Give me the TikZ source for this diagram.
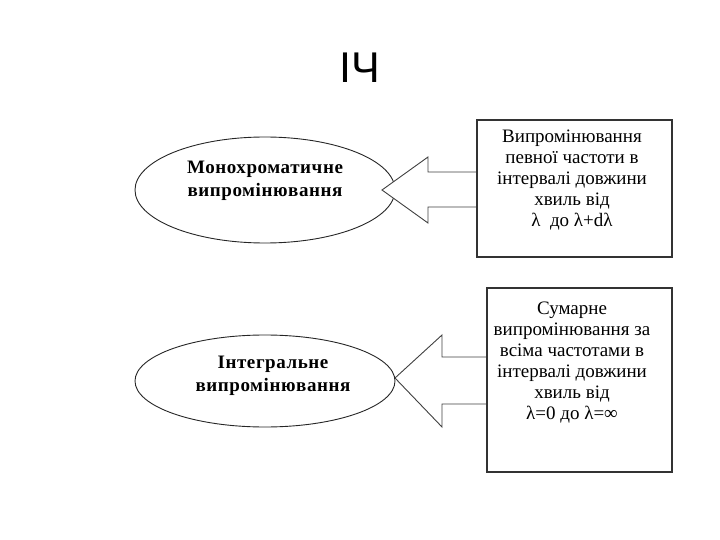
\documentclass[tikz,border=0pt]{standalone}
\usepackage{fontspec}
\setmainfont{Liberation Serif}
\newfontfamily\titlefont{Liberation Sans}
\newfontfamily\ovalfont[LetterSpace=3]{Liberation Serif}
\usetikzlibrary{shapes.geometric}
\tikzset{
  oval/.style={ellipse, draw=black!85, line width=0.9pt, fill=white, inner sep=0pt},
  ovaltext/.style={font=\ovalfont\fontsize{19}{23}\selectfont\bfseries, align=center, inner sep=0pt},
  infobox/.style={draw=black!80, line width=1.3pt, fill=white, inner sep=0pt},
  boxtext/.style={font=\fontsize{19}{21}\selectfont, align=center, inner sep=0pt},
  blockarrow/.style={draw=black!75, line width=0.9pt, fill=white, line join=miter},
}
\begin{document}
\begin{tikzpicture}[x=1pt, y=-1pt]
\useasboundingbox (0,0) rectangle (720,540);
\node[font=\titlefont\fontsize{43}{43}\selectfont, inner sep=0pt] (title) at (360,68) {ІЧ};

% top row
\node[oval, minimum width=260pt, minimum height=106pt] (e1) at (265,190) {};
\node[ovaltext] (e1t) at (265,181) {Монохроматичне\\випромінювання};
\draw[blockarrow] (477,172) -- (428,172) -- (428,157) -- (382,190) -- (428,223) -- (428,207) -- (477,207);
\node[infobox, minimum width=195pt, minimum height=137pt] (b1) at (574.5,188.5) {};
\node[boxtext] (b1t) at (572,180) {Випромінювання\\певної частоти в\\інтервалі довжини\\хвиль від\\λ\ \ до λ+dλ};

% bottom row
\node[oval, minimum width=260pt, minimum height=92pt] (e2) at (265,381) {};
\node[ovaltext] (e2t) at (273,376) {Інтегральне\\випромінювання};
\draw[blockarrow] (487,357) -- (442,357) -- (442,335) -- (395,378) -- (442,427) -- (442,404) -- (487,404);
\node[infobox, minimum width=185pt, minimum height=184pt] (b2) at (579.5,380) {};
\node[boxtext] (b2t) at (572,363) {Сумарне\\випромінювання за\\всіма частотами в\\інтервалі довжини\\хвиль від\\λ=0 до λ=∞};
\end{tikzpicture}
\end{document}
